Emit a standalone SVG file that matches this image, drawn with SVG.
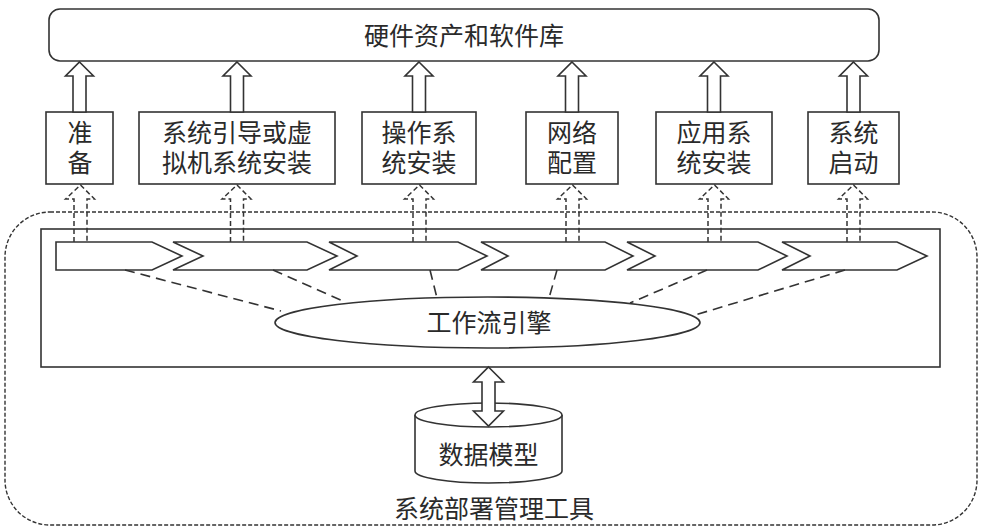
<svg xmlns="http://www.w3.org/2000/svg" width="984" height="532" viewBox="0 0 984 532">
<style>
.s{fill:#fff;stroke:#333;stroke-width:1.6}
.t{font-family:"Noto Sans CJK SC","Noto Sans",sans-serif;font-size:25px;fill:#2a2a2a;text-anchor:middle}
.da{fill:none;stroke:#333;stroke-width:1.5;stroke-dasharray:5 3}
.dl{fill:none;stroke:#333;stroke-width:1.6;stroke-dasharray:10 6}
.ua{fill:#fff;stroke:#333;stroke-width:1.6;stroke-linejoin:miter}
</style>
<rect width="984" height="532" fill="#fff"/>
<g id="deploy-tool">
<rect x="5" y="212" width="972" height="313" rx="45" fill="none" stroke="#333" stroke-width="1.4" stroke-dasharray="4 2"/>
<text class="t" x="494" y="518">系统部署管理工具</text>
</g>
<g id="workflow-area">
<rect class="s" x="41" y="229" width="899" height="138"/>
</g>
<g id="repo">
<rect class="s" x="49" y="9" width="830" height="52" rx="11"/>
<text class="t" x="464" y="45">硬件资产和软件库</text>
</g>
<g id="step-prepare">
<rect class="s" x="46" y="112" width="67" height="72"/>
<text class="t" x="80" y="142">准<tspan x="80" dy="30">备</tspan></text>
</g>
<g id="step-boot">
<rect class="s" x="139" y="112" width="196" height="72"/>
<text class="t" x="237" y="142">系统引导或虚<tspan x="237" dy="30">拟机系统安装</tspan></text>
</g>
<g id="step-os">
<rect class="s" x="362" y="112" width="114" height="72"/>
<text class="t" x="419" y="142">操作系<tspan x="419" dy="30">统安装</tspan></text>
</g>
<g id="step-net">
<rect class="s" x="526" y="112" width="92" height="72"/>
<text class="t" x="572" y="142">网络<tspan x="572" dy="30">配置</tspan></text>
</g>
<g id="step-app">
<rect class="s" x="656" y="112" width="116" height="72"/>
<text class="t" x="714" y="142">应用系<tspan x="714" dy="30">统安装</tspan></text>
</g>
<g id="step-start">
<rect class="s" x="808" y="112" width="91" height="72"/>
<text class="t" x="853.5" y="142">系统<tspan x="853.5" dy="30">启动</tspan></text>
</g>
<g id="chevrons">
<polygon id="chev1" class="s" points="56,242 152,242 182,256 152,270 56,270"/>
<polygon id="chev2" class="s" points="173,242 307,242 337,256 307,270 173,270 203,256"/>
<polygon id="chev3" class="s" points="329,242 458,242 487,256 458,270 329,270 357,256"/>
<polygon id="chev4" class="s" points="481,242 605,242 633,256 605,270 481,270 508,256"/>
<polygon id="chev5" class="s" points="627,242 758,242 787,256 758,270 627,270 655,256"/>
<polygon id="chev6" class="s" points="782,242 897,242 927,256 897,270 782,270 810,256"/>
</g>
<g id="connectors">
<g id="links">
<line class="dl" x1="125" y1="270" x2="281" y2="311"/>
<line class="dl" x1="273" y1="270" x2="345" y2="302"/>
<line class="dl" x1="430" y1="270" x2="437" y2="298"/>
<line class="dl" x1="557" y1="270" x2="549" y2="298"/>
<line class="dl" x1="707" y1="270" x2="630" y2="303"/>
<line class="dl" x1="845" y1="270" x2="695" y2="315"/>
</g>
<g id="up-arrows">
<polygon class="ua" points="79.5,62 93.5,76 86,76 86,112 73,112 73,76 65.5,76"/>
<polygon class="ua" points="237,62 251,76 243.5,76 243.5,112 230.5,112 230.5,76 223,76"/>
<polygon class="ua" points="419,62 433,76 425.5,76 425.5,112 412.5,112 412.5,76 405,76"/>
<polygon class="ua" points="572,62 586,76 578.5,76 578.5,112 565.5,112 565.5,76 558,76"/>
<polygon class="ua" points="714,62 728,76 720.5,76 720.5,112 707.5,112 707.5,76 700,76"/>
<polygon class="ua" points="853.5,62 867.5,76 860,76 860,112 847,112 847,76 839.5,76"/>
</g>
<g id="dashed-up-arrows">
<polyline class="da" points="74,242 74,199 65.5,199 80.5,185 94.5,199 87,199 87,242"/>
<polyline class="da" points="230.5,242 230.5,199 222,199 237,185 251,199 243.5,199 243.5,242"/>
<polyline class="da" points="413,242 413,199 404.5,199 419.5,185 433.5,199 426,199 426,242"/>
<polyline class="da" points="566,242 566,199 557.5,199 572.5,185 586.5,199 579,199 579,242"/>
<polyline class="da" points="708,242 708,199 699.5,199 714.5,185 728.5,199 721,199 721,242"/>
<polyline class="da" points="847,242 847,199 838.5,199 853.5,185 867.5,199 860,199 860,242"/>
</g>
</g>
<g id="engine">
<ellipse class="s" cx="487.5" cy="322.5" rx="212.5" ry="25.5"/>
<text class="t" x="489" y="332">工作流引擎</text>
</g>
<g id="datamodel">
<path class="s" d="M415,415 L415,471 A73.5,12 0 0 0 562,471 L562,415"/>
<ellipse class="s" cx="488.5" cy="415" rx="73.5" ry="12"/>
<text class="t" x="488.5" y="464">数据模型</text>
</g>
<g id="connectors-db">
<polygon class="ua" points="488.5,367 503.5,382 495,382 495,411 503.5,411 488.5,426 473.5,411 482,411 482,382 473.5,382"/>
</g>
</svg>
